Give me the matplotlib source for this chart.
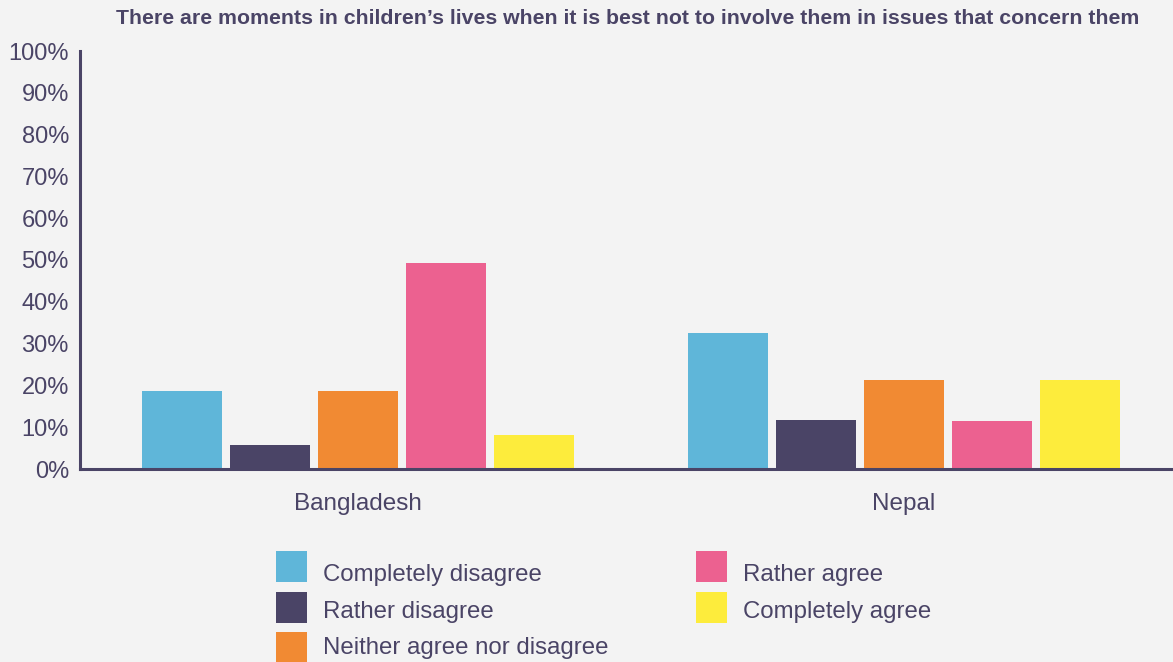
import numpy as np
import matplotlib.pyplot as plt
from matplotlib.patches import Rectangle

# survey data (percent)
countries = ['Bangladesh', 'Nepal']
answers = ['Completely disagree', 'Rather disagree', 'Neither agree nor disagree',
           'Rather agree', 'Completely agree']
completely_disagree = [18.7, 32.6]
rather_disagree = [5.8, 11.8]
neither = [18.7, 21.3]
rather_agree = [49.2, 11.5]
completely_agree = [8.2, 21.3]
yticks = [0, 10, 20, 30, 40, 50, 60, 70, 80, 90, 100]

series = [completely_disagree, rather_disagree, neither, rather_agree, completely_agree]
colors = ['#5fb6d9', '#4a4466', '#f18a33', '#ec6190', '#fdec3c']
txt = '#4a4466'
bg = '#f3f3f3'

plt.rcParams['font.family'] = ['Liberation Sans', 'DejaVu Sans']

W, H = 1173, 662
fig = plt.figure(figsize=(W / 100, H / 100), dpi=100, facecolor=bg)
ax = fig.add_axes([80 / W, 1 - 469 / H, 1 - 80 / W, (469 - 51) / H])
ax.set_facecolor(bg)

x = np.arange(len(countries))
width = 80 / 546
step = 88 / 546
for i, (vals, c) in enumerate(zip(series, colors)):
    ax.bar(x + (i - 2) * step, vals, width, color=c, label=answers[i], zorder=2)

ax.set_xlim(-0.509, 1.493)
ax.set_ylim(0, 100)
ax.set_yticks(yticks)
ax.set_yticklabels([f'{v}%' for v in yticks])
ax.set_xticks(x)
ax.set_xticklabels(countries)
ax.tick_params(axis='y', length=0, pad=8, labelsize=17, labelcolor=txt)
ax.tick_params(axis='x', length=0, pad=17, labelsize=17.5, labelcolor=txt)

for s in ['top', 'right']:
    ax.spines[s].set_visible(False)
for s in ['left', 'bottom']:
    ax.spines[s].set_color(txt)
    ax.spines[s].set_linewidth(2.2)
    ax.spines[s].set_zorder(3)

fig.text(628 / W, 1 - 19 / H,
         'There are moments in children\u2019s lives when it is best not to involve them in issues that concern them',
         ha='center', va='center', fontsize=15.3, fontweight='bold', color=txt)

# legend, two columns: 3 items then 2
col_x = [276, 696]
row_top = [551, 592, 632]
row_base = [581, 618, 654]
for i, (label, c) in enumerate(zip(answers, colors)):
    col, row = divmod(i, 3)
    px, py = col_x[col], row_top[row]
    fig.add_artist(Rectangle((px / W, 1 - (py + 31) / H), 31 / W, 31 / H,
                             transform=fig.transFigure, color=c, lw=0))
    fig.text((px + 47) / W, 1 - row_base[row] / H, label, ha='left', va='baseline',
             fontsize=17.3, color=txt)

fig.savefig('out.png', dpi=100, facecolor=bg)
